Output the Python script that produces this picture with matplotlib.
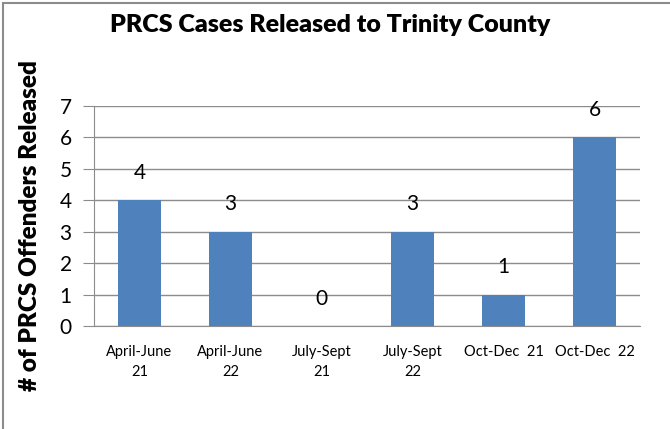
import matplotlib.pyplot as plt
from matplotlib.patches import Rectangle

# quarters and number of PRCS offenders released
quarters = ["April-June\n21", "April-June\n22", "July-Sept\n21", "July-Sept\n22", "Oct-Dec  21", "Oct-Dec  22"]
released = [4, 3, 0, 3, 1, 6]

plt.rcParams['font.family'] = ['Lato', 'DejaVu Sans']

fig = plt.figure(figsize=(6.7, 4.29), dpi=100)
ax = fig.add_axes([94 / 670, 1 - 326 / 429, (640 - 94) / 670, (326 - 106) / 429])

xs = range(len(quarters))
ax.bar(xs, released, width=0.47, color="#4F81BD", zorder=3)
for x, v in zip(xs, released):
    ax.text(x, v + 0.55, str(v), ha="center", va="bottom", fontsize=15)

ax.set_xlim(-0.5, len(quarters) - 0.5)
ax.set_ylim(0, 7)
ax.set_yticks(range(0, 8))
ax.set_xticks(list(xs))
ax.set_xticklabels(quarters, fontsize=10.5, linespacing=1.5)
ax.tick_params(axis="x", length=0, pad=14)
ax.tick_params(axis="y", length=8, color="#8c8c8c", labelsize=15, pad=8)
ax.grid(axis="y", color="#8c8c8c", linewidth=1, zorder=0)
for s in ["top", "right"]:
    ax.spines[s].set_visible(False)
ax.spines["left"].set_color("#8c8c8c")
ax.spines["bottom"].set_color("#8c8c8c")

fig.text(330 / 670, 1 - 25 / 429, "PRCS Cases Released to Trinity County",
         ha="center", va="center", fontsize=18, fontweight="heavy")
fig.text(30 / 670, 1 - 226 / 429, "# of PRCS Offenders Released",
         ha="center", va="center", rotation=90, fontsize=17.5, fontweight="heavy")

# chart border
fig.patches.append(Rectangle((3 / 670, -0.1), 1.2, 1 - 3 / 429 + 0.1, transform=fig.transFigure,
                             fill=False, edgecolor="#8c8c8c", linewidth=1.5))

plt.savefig("out.png", dpi=100)
